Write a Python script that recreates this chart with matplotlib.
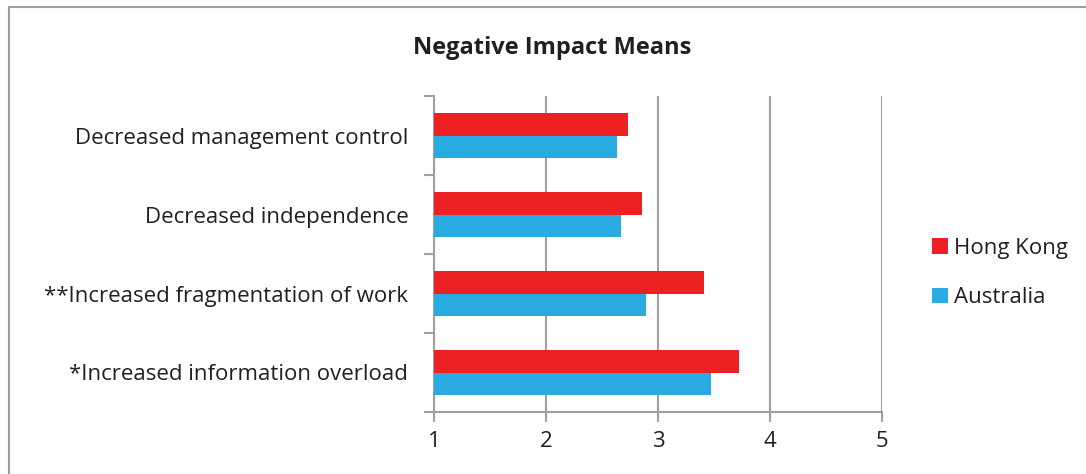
import matplotlib.pyplot as plt
import numpy as np
from matplotlib.patches import Rectangle

plt.rcParams['font.family'] = ['Open Sans', 'DejaVu Sans']

categories = ["*Increased information overload",
              "**Increased fragmentation of work",
              "Decreased independence",
              "Decreased management control"]
hong_kong = [3.72, 3.41, 2.86, 2.73]
australia = [3.47, 2.89, 2.67, 2.63]
x_ticks = [1, 2, 3, 4, 5]

red = "#ED2024"
blue = "#29ABE2"
axis_gray = "#A0A0A3"
text_color = "#231F20"

fig = plt.figure(figsize=(10.86, 4.74), dpi=100)
ax = fig.add_axes([434 / 1086, 1 - 412 / 474, 448 / 1086, 316 / 474])

y = np.arange(len(categories))
h = 0.287
ax.barh(y + h / 2, np.array(hong_kong) - 1, h, left=1, color=red, label="Hong Kong", zorder=3)
ax.barh(y - h / 2, np.array(australia) - 1, h, left=1, color=blue, label="Australia", zorder=3)

ax.set_xlim(1, 5)
ax.set_ylim(-0.5, len(categories) - 0.5)
ax.set_xticks(x_ticks)
ax.set_xticklabels([str(t) for t in x_ticks], fontsize=16, color=text_color)
ax.set_yticks(y)
ax.set_yticklabels(categories, fontsize=16, color=text_color)
ax.tick_params(axis="y", length=0, pad=18.5)
ax.set_yticks(np.arange(len(categories) + 1) - 0.5, minor=True)
ax.tick_params(axis="y", which="minor", length=7, width=1.5, color=axis_gray, direction="out")
ax.tick_params(axis="x", length=7, width=1.5, color=axis_gray, direction="out", pad=7)

ax.grid(axis="x", color=axis_gray, linewidth=1.5, zorder=0)
for side in ["top", "right"]:
    ax.spines[side].set_visible(False)
for side in ["left", "bottom"]:
    ax.spines[side].set_color(axis_gray)
    ax.spines[side].set_linewidth(1.5)

handles, labels = ax.get_legend_handles_labels()
fig.legend(handles, labels, loc="center left", bbox_to_anchor=(912 / 1086, 1 - 273 / 474),
           frameon=False, fontsize=16, handlelength=0.7, handleheight=0.7,
           handletextpad=0.3, labelspacing=1.3, labelcolor=text_color)

fig.text(552 / 1086, 1 - 48 / 474, "Negative Impact Means", ha="center", va="center",
         fontsize=17, fontweight="bold", color=text_color)

# outer chart frame
fig.patches.append(Rectangle((9 / 1086, -0.1), 1.2, 1 - 7 / 474 + 0.1, transform=fig.transFigure,
                             fill=False, edgecolor="#9C9C9C", linewidth=1.5))

fig.savefig("out.png", dpi=100)
